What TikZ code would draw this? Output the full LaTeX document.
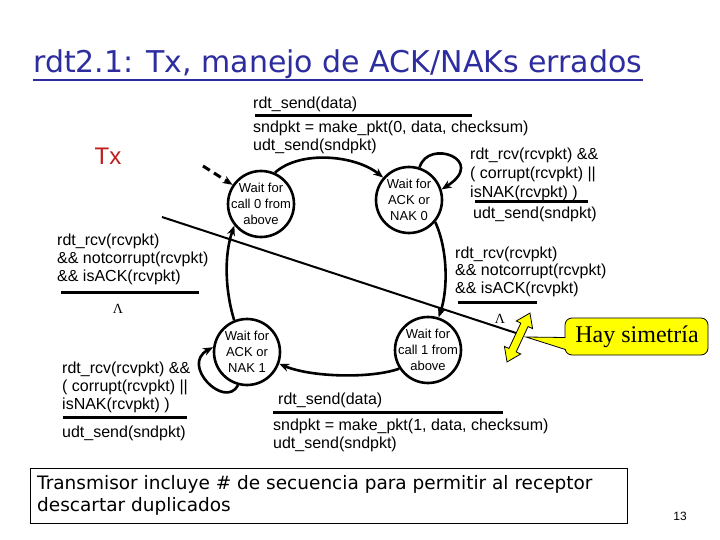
\documentclass[tikz,border=0pt]{standalone}
\usepackage{fontspec}
\setmainfont{Liberation Sans}
\newfontfamily\serifface{Liberation Serif}
\newfontfamily\comicface{DejaVu Sans}
\usetikzlibrary{arrows.meta}
\definecolor{titleblue}{RGB}{45,45,160}
\definecolor{txred}{RGB}{190,30,30}
\definecolor{calloutyellow}{RGB}{255,255,0}
\begin{document}
\begin{tikzpicture}[x=1pt,y=-1pt,
  statenode/.style={circle, draw, line width=2.6pt, minimum size=66pt, inner sep=0pt},
  statetext/.style={align=center, inner sep=0pt, font=\fontsize{13}{16}\selectfont},
  lbl/.style={anchor=north west, inner sep=0pt, align=left, font=\fontsize{16}{18}\selectfont},
  lam/.style={inner sep=0pt, font=\serifface\fontsize{14}{14}\selectfont},
  bar/.style={line width=3pt},
  trans/.style={line width=2.6pt, -{Stealth[length=10pt,width=8pt]}},
  initarrow/.style={line width=3pt, dash pattern=on 8pt off 5pt, -{Stealth[length=10pt,width=8pt]}},
  axisline/.style={line width=2pt},
  callout/.style={fill=calloutyellow, draw=black, line width=0.8pt},
  dblarrow/.style={fill=calloutyellow, draw=black, line width=0.8pt, line join=miter}]
\useasboundingbox (0,0) rectangle (720,540);
\fill[white] (0,0) rectangle (720,540);

% title
\node[anchor=base west, inner sep=0pt, text=titleblue, font=\comicface\fontsize{30}{34}\selectfont] (title) at (33,73) {rdt2.1: Tx, manejo de ACK/NAKs errados};
\draw[titleblue, line width=2.5pt] (title.south west |- 0,80) -- (title.south east |- 0,80);

% Tx
\node[inner sep=0pt, text=txred, font=\fontsize{24}{24}\selectfont] (tx) at (108,156) {Tx};

% states
\node[statenode] (s0) at (261,204) {};
\node[statetext] (s0t) at (s0) {Wait for\\call 0 from\\above};
\node[statenode] (s1) at (409,200) {};
\node[statetext] (s1t) at (s1) {Wait for\\ACK or\\NAK 0};
\node[statenode] (s2) at (428,350) {};
\node[statetext] (s2t) at (s2) {Wait for\\call 1 from\\above};
\node[statenode] (s3) at (247,352) {};
\node[statetext] (s3t) at (s3) {Wait for\\ACK or\\NAK 1};

% symmetry axis
\coordinate (ax1) at (162,217);
\coordinate (ax2) at (516,333);
\draw[axisline] (ax1) -- (ax2);

% initial arrow
\coordinate (init) at (203,166);
\draw[initarrow] (init) -- (s0.146);

% transitions
\draw[trans] (s0.66) .. controls (300,150) and (355,155) .. (s1.139);
\draw[trans] (s1.72) .. controls (428,138) and (488,160) .. (s1.18);
\draw[trans] (s1.-40) .. controls (448,250) and (448,290) .. (s2.72);
\draw[trans] (s2.213) .. controls (370,379) and (310,377) .. (s3.-20);
\draw[trans] (s3.255) .. controls (225,410) and (180,365) .. (s3.172);
\draw[trans] (s3.112) .. controls (225,290) and (224,255) .. (s0.219);

% top label
\node[lbl] (la1) at (253,97) {rdt\_send(data)};
\draw[bar] (255,116) -- (472,116);
\node[lbl, font=\fontsize{16}{17.5}\selectfont] (la2) at (253,121) {sndpkt = make\_pkt(0, data, checksum)\\udt\_send(sndpkt)};

% right top label
\node[lbl, font=\fontsize{16}{18.8}\selectfont] (lb1) at (470,148) {rdt\_rcv(rcvpkt) \&\&\\( corrupt(rcvpkt) ||\\isNAK(rcvpkt) )};
\draw[bar] (475,202) -- (588,202);
\node[lbl] (lb2) at (473,207) {udt\_send(sndpkt)};

% left label
\node[lbl, font=\fontsize{16}{17.7}\selectfont] (lc1) at (57,234) {rdt\_rcv(rcvpkt)\\\&\& notcorrupt(rcvpkt)\\\&\& isACK(rcvpkt)};
\draw[bar] (61,292) -- (199,292);
\node[lam] (lc2) at (118,309) {Λ};

% right lower label
\node[lbl, font=\fontsize{16}{17.2}\selectfont] (ld1) at (455,247) {rdt\_rcv(rcvpkt)\\\&\& notcorrupt(rcvpkt)\\\&\& isACK(rcvpkt)};
\draw[bar] (458,302) -- (537,302);
\node[lam] (ld2) at (500,319) {Λ};

% lower left label
\node[lbl, font=\fontsize{16}{18}\selectfont] (le1) at (62,362) {rdt\_rcv(rcvpkt) \&\&\\( corrupt(rcvpkt) ||\\isNAK(rcvpkt) )};
\draw[bar] (63,417) -- (187,417);
\node[lbl] (le2) at (62,426) {udt\_send(sndpkt)};

% bottom label
\node[lbl] (lf1) at (278,393) {rdt\_send(data)};
\draw[bar] (273,412) -- (503,412);
\node[lbl, font=\fontsize{16}{17.5}\selectfont] (lf2) at (273,419) {sndpkt = make\_pkt(1, data, checksum)\\udt\_send(sndpkt)};

% double arrow
\begin{scope}[shift={(518.5,337.5)}, rotate=64.9]
\draw[dblarrow] (27,0) -- (14,9) -- (14,4) -- (-14,4) -- (-14,9) -- (-27,0) -- (-14,-9) -- (-14,-4) -- (14,-4) -- (14,-9) -- cycle;
\end{scope}

% callout
\draw[callout, rounded corners=7pt] (565,318) rectangle (708,355);
\fill[calloutyellow] (526,337) -- (567,337.5) -- (567,349.5) -- cycle;
\draw[line width=0.8pt] (565.4,337.5) -- (526,337) -- (565.4,349.5);
\node[inner sep=0pt, font=\serifface\fontsize{24}{24}\selectfont] (hay) at (637,337) {Hay simetría};

% bottom box
\draw[line width=1pt] (30,468) rectangle (627,523);
\node[anchor=north west, inner sep=0pt, align=left, font=\comicface\fontsize{18.5}{22}\selectfont] (note) at (37,475) {Transmisor incluye \# de secuencia para permitir al receptor\\descartar duplicados};
\node[inner sep=0pt, font=\fontsize{12}{12}\selectfont] (pg) at (680,516) {13};
\end{tikzpicture}
\end{document}
